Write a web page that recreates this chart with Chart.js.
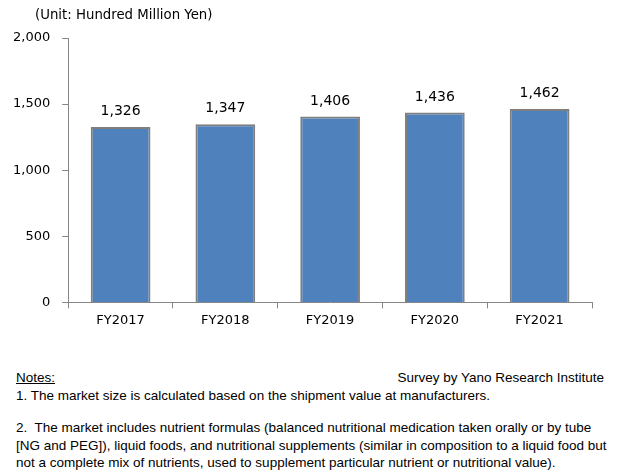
<!DOCTYPE html>
<html>
<head>
<meta charset="utf-8">
<script src="https://cdn.jsdelivr.net/npm/chart.js@4"></script>
<style>
  body { margin: 0; background: #fff; width: 618px; height: 476px; overflow: hidden; font-family: "DejaVu Sans", sans-serif; color: #000; }
  #wrap { position: absolute; left: 0; top: 0; width: 618px; height: 340px; }
  .unit { position: absolute; left: 35px; top: 7px; font-size: 13.3px; }
  .notes { position: absolute; left: 16px; top: 369px; width: 600px; font-family: "Liberation Sans", sans-serif; font-size: 13.5px; line-height: 17.5px; white-space: nowrap; }
  .src { position: absolute; right: 14px; top: 369px; font-family: "Liberation Sans", sans-serif; font-size: 13.5px; line-height: 17.5px; }
  .notes p { margin: 0; }
</style>
</head>
<body>
<div id="wrap"><canvas id="chart"></canvas></div>
<div class="unit">(Unit: Hundred Million Yen)</div>
<div class="notes">
  <p><u>Notes:</u></p>
  <p>1. The market size is calculated based on the shipment value at manufacturers.</p>
  <p style="margin-top:15px">2.&nbsp; The market includes nutrient formulas (balanced nutritional medication taken orally or by tube<br>[NG and PEG]), liquid foods, and nutritional supplements (similar in composition to a liquid food but<br>not a complete mix of nutrients, used to supplement particular nutrient or nutritional value).</p>
</div>
<div class="src">Survey by Yano Research Institute</div>
<script>
// ===== DATA =====
const years = ['FY2017', 'FY2018', 'FY2019', 'FY2020', 'FY2021'];
const marketSize = [1326, 1347, 1406, 1436, 1462];
const yTicks = [0, 500, 1000, 1500, 2000];

// ===== VALUE LABELS =====
const valueLabels = {
  id: 'valueLabels',
  afterDatasetsDraw(chart) {
    const c = chart.ctx;
    const meta = chart.getDatasetMeta(0);
    c.save();
    c.font = '14px "DejaVu Sans"';
    c.fillStyle = '#000';
    c.textAlign = 'center';
    c.textBaseline = 'alphabetic';
    meta.data.forEach((bar, i) => {
      c.fillText(marketSize[i].toLocaleString('en-US'), bar.x, bar.y - 12);
    });
    c.restore();
  }
};

// ===== CHART =====
const ctx = document.getElementById('chart');

new Chart(ctx, {
  type: 'bar',
  data: {
    labels: years,
    datasets: [{
      data: marketSize,
      backgroundColor: '#4f81bd',
      borderColor: '#7f7f7f',
      borderWidth: 2,
      categoryPercentage: 1,
      barPercentage: 0.57
    }]
  },
  options: {
    responsive: true,
    maintainAspectRatio: false,
    animation: false,
    layout: { padding: { left: 1, right: 26, top: 38, bottom: 8 } },
    plugins: { legend: { display: false }, tooltip: { enabled: false } },
    scales: {
      x: {
        grid: { display: true, drawOnChartArea: false, offset: true, color: '#868686', tickLength: 6 },
        border: { color: '#868686' },
        ticks: { color: '#000', font: { family: 'DejaVu Sans', size: 13 }, padding: 4 }
      },
      y: {
        min: 0,
        max: 2000,
        afterBuildTicks(axis) { axis.ticks = yTicks.map(v => ({ value: v })); },
        grid: { display: true, drawOnChartArea: false, color: '#868686', tickLength: 6 },
        border: { color: '#868686' },
        ticks: {
          color: '#000',
          font: { family: 'DejaVu Sans', size: 13 },
          padding: 12,
          callback: v => v.toLocaleString('en-US')
        }
      }
    }
  },
  plugins: [valueLabels]
});
</script>
</body>
</html>
